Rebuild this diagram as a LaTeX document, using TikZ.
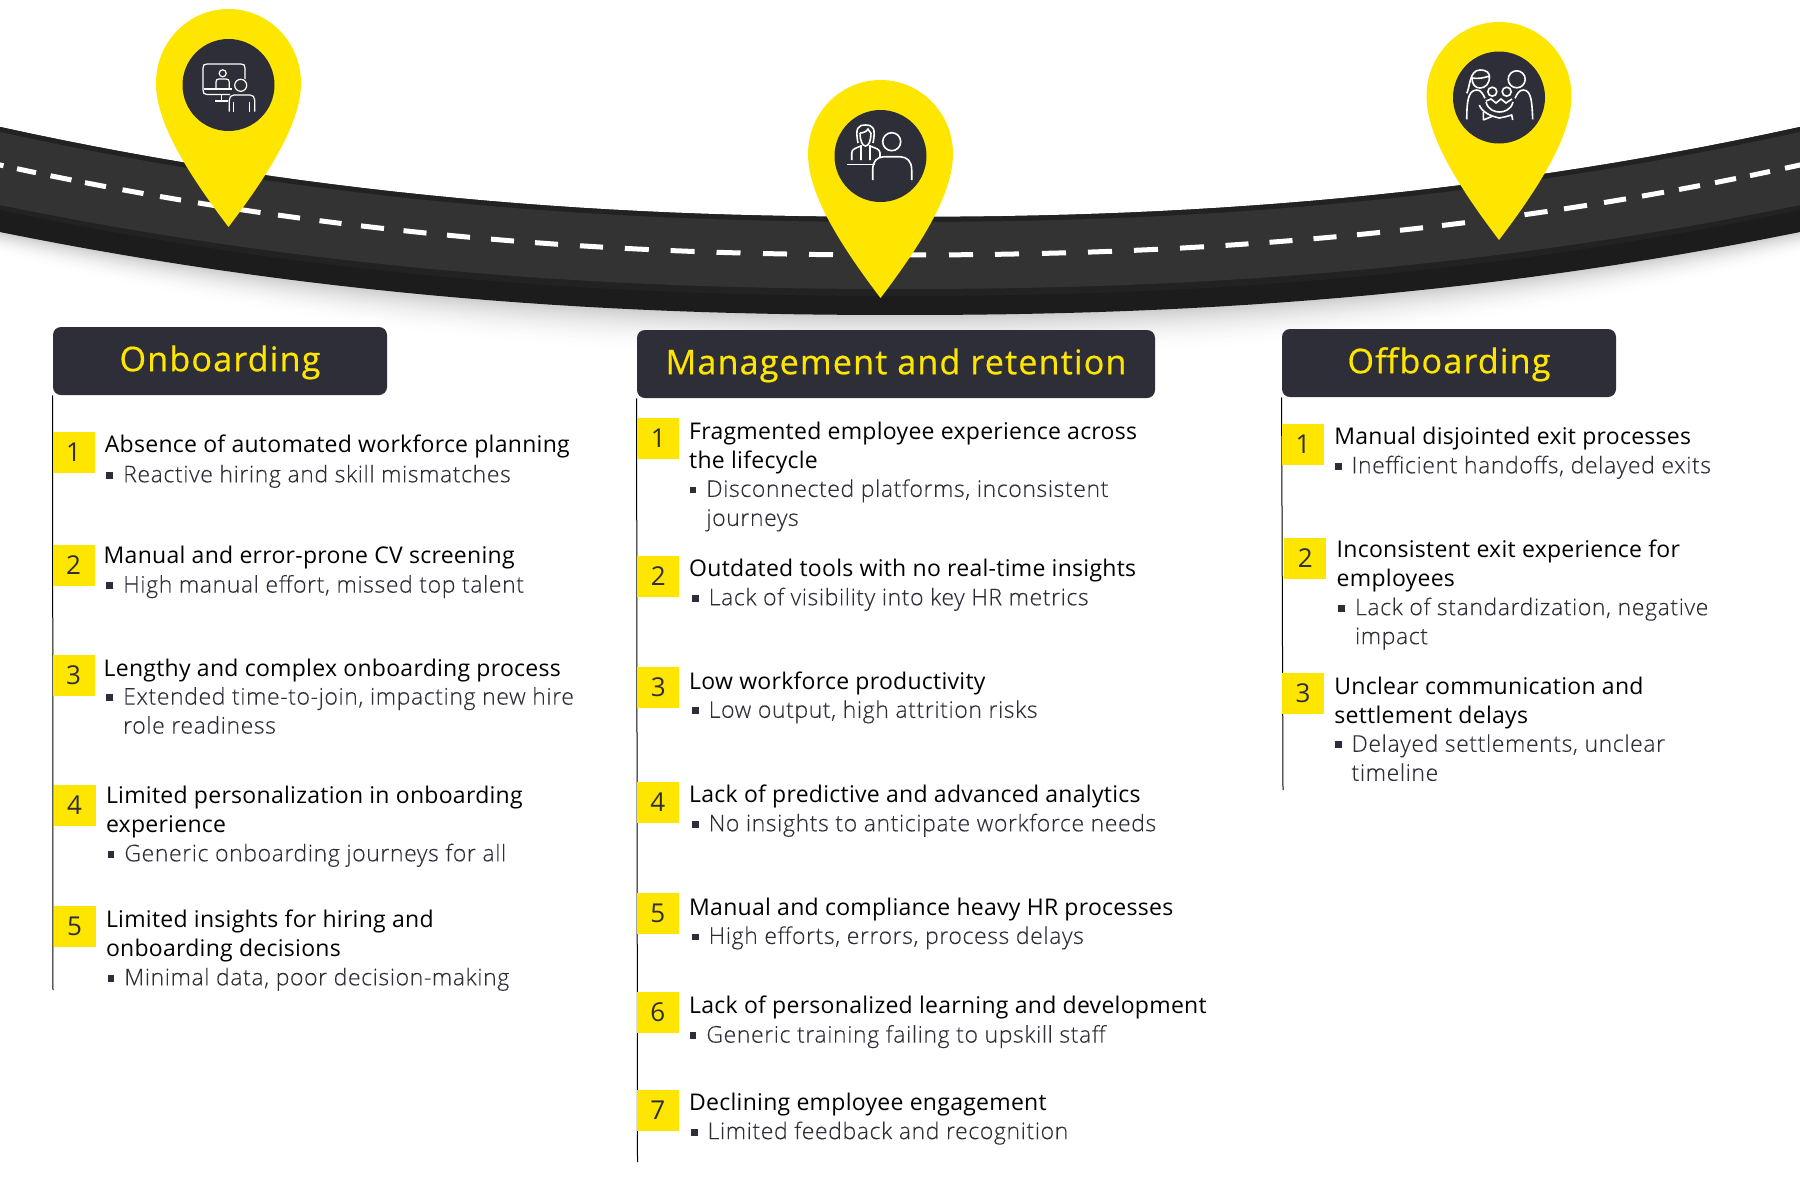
\documentclass[tikz,border=0pt]{standalone}
\usepackage{fontspec}
\setmainfont{Open Sans}
\newfontfamily\titlefont[LetterSpace=1.2]{Open Sans}
\newfontfamily\subfont[LetterSpace=2.6,FakeBold=0.25]{Open Sans Light}
\newfontfamily\headfont[LetterSpace=3.6,FakeBold=0.6]{Open Sans}
\usepackage{xcolor}
\definecolor{eyyellow}{HTML}{FFE600}
\definecolor{eydark}{HTML}{2E2E38}
\definecolor{asphalt}{HTML}{333333}
\definecolor{asphaltdark}{HTML}{1C1C1C}
\definecolor{asphaltrim}{HTML}{222222}
\newcommand{\bul}{\leavevmode\llap{\textcolor{eydark}{\rule[1.8pt]{3.4pt}{3.4pt}}\hspace{5pt}}}
\newcommand{\roadedge}[2]{#1-#2*pow(abs(\x-900)/900,2.2)}
\newcommand{\pinshape}[4]{%
	\begin{scope}[shift={(#1,#2)}]
	\fill[eyyellow] (0,0) .. controls (-40,0) and (-72.5,33) .. (-72.5,74) .. controls (-72.5,112) and (-44,160) .. (0,218) .. controls (44,160) and (72.5,112) .. (72.5,74) .. controls (72.5,33) and (40,0) .. (0,0) -- cycle;
	\end{scope}
	\node[pincircle] (#4) at (#1,#3) {};
}
\tikzset{
	pincircle/.style={circle,fill=eydark,minimum size=46pt,inner sep=0},
	header/.style={rectangle,rounded corners=4pt,fill=eydark,text=eyyellow,minimum height=34pt,inner sep=0,text height=13.4pt,text depth=3.2pt,font=\headfont\fontsize{17}{20}\selectfont},
	numbox/.style={rectangle,fill=eyyellow,text=eydark,minimum width=21pt,minimum height=20.5pt,inner sep=0,font=\fontsize{13}{14}\selectfont},
	rowtext/.style={align=left,inner sep=0,yshift=6.2pt,anchor=north west,execute at begin node=\strut},
	rowtitle/.style={rowtext,text=black,font=\titlefont\fontsize{11.5}{14.5}\selectfont},
	rowsub/.style={rowtext,text=eydark,font=\subfont\fontsize{11.5}{14.5}\selectfont},
	rail/.style={black,line width=0.5pt},
	icon/.style={white,line width=0.6pt},
	iconb/.style={white,line width=0.8pt}
}
\begin{document}
\begin{tikzpicture}[x=0.5pt,y=-0.5pt]
	\useasboundingbox (0,0) rectangle (1800,1200);
	%shadow under the road
	\foreach \d in {44,42,...,2}{
		\pgfmathsetmacro{\shadeval}{20*(1-\d/46)^2}
		\fill[black!\shadeval!white] plot[domain=0:1800,samples=60] (\x,{\roadedge{217}{90}}) -- plot[domain=1800:0,samples=60] (\x,{\roadedge{315}{83}+\d*(1-0.5*pow(abs(\x-900)/900,2.2))}) -- cycle;
	}
	%road
	\fill[asphaltdark] plot[domain=0:1800,samples=60] (\x,{\roadedge{217}{90}}) -- plot[domain=1800:0,samples=60] (\x,{\roadedge{315}{83}}) -- cycle;
	\fill[asphaltrim] plot[domain=0:1800,samples=60] (\x,{\roadedge{217}{90}}) -- plot[domain=1800:0,samples=60] (\x,{\roadedge{296}{86}}) -- cycle;
	\fill[asphalt] plot[domain=0:1800,samples=60] (\x,{\roadedge{222}{90}}) -- plot[domain=1800:0,samples=60] (\x,{\roadedge{289}{84}}) -- cycle;
	%lane marks
	\foreach \m/\w in {-6/19,26.5/19,61/21,95.5/21,133/21,170.5/21,208.5/21,250/21,289/22,330.5/22,372.5/23,415/23,458.5/23,502.5/23,546.5/23,591.5/23,636.8/24,682.6/24,728.5/24,775/24,821/24,914/24,961/24,1007/24,1054/24,1100/24,1146/24,1192/24,1237/23,1281/23,1325/23,1368.5/23,1411.5/23,1453.5/23,1536/23,1575.5/23,1615/22,1653/22,1689.5/21,1725.5/21,1760/20,1795/20}{
		\draw[white,line width=2.5pt] ({\m-\w/2},{255-90*pow(abs(\m-\w/2-900)/900,2.2)}) -- ({\m+\w/2},{255-90*pow(abs(\m+\w/2-900)/900,2.2)});
	}
	%pins
	\pinshape{228.5}{9}{85}{pinon}
	\pinshape{880.5}{80}{156}{pinma}
	\pinshape{1499}{22}{97.5}{pinof}
	%screen icon
	\draw[icon] (245,79) -- (245,68) .. controls (245,65) and (244,64) .. (241,64) -- (207,64) .. controls (204,64) and (203,65) .. (203,68) -- (203,90) .. controls (203,93) and (204,94.5) .. (207,94.5) -- (230,94.5);
	\draw[icon] (204,89) -- (232,89);
	\draw[icon] (221.7,94.5) -- (221.7,101) (215,101) -- (228,101);
	\draw[icon] (222.7,73.3) circle[radius=3.5];
	\draw[icon] (216,88) -- (216,82) .. controls (216,80) and (217,79) .. (219,79) -- (226,79) .. controls (228,79) and (229.3,80) .. (229.3,82) -- (229.3,88);
	\draw[icon] (240.7,85.3) circle[radius=6];
	\draw[icon] (229.3,111.7) -- (229.3,100) .. controls (229.3,97) and (231,95) .. (234,95) -- (250,95) .. controls (253,95) and (254.7,97) .. (254.7,100) -- (254.7,111.7);
	\draw[icon] (233.3,101.7) -- (233.3,111.7) (249.3,101.7) -- (249.3,111.7);
	%meeting icon
	\draw[iconb] (858,143) .. controls (855,128) and (858,125) .. (865.5,125) .. controls (873,125) and (876,128) .. (873,143);
	\draw[iconb] (860,133) .. controls (864,133) and (867,131) .. (868,129) .. controls (869,131) and (870,132) .. (871,133);
	\draw[iconb] (860,133) .. controls (860,140) and (862,146) .. (865.5,146) .. controls (869,146) and (871,140) .. (871,133);
	\draw[iconb] (851.7,160) -- (851.7,153) .. controls (851.7,149) and (856,148) .. (861,146) -- (861,160);
	\draw[iconb] (880,158) -- (880,153) .. controls (880,149) and (875,148) .. (870,146) -- (870,160);
	\draw[iconb] (847,164.5) -- (875,164.5);
	\draw[iconb] (891.7,141.7) circle[radius=9];
	\draw[iconb] (872.7,180) -- (872.7,170) .. controls (872.7,161) and (877,157) .. (884,156.7) -- (900,156.7) .. controls (907,157) and (911.7,161) .. (911.7,170) -- (911.7,180);
	%family icon
	\draw[iconb] (1466.7,93.3) .. controls (1470,88) and (1469,70) .. (1480,70) .. controls (1487,70) and (1490,73) .. (1489.3,78);
	\draw[iconb] (1472,78) .. controls (1478,79) and (1484,78) .. (1489.3,76) .. controls (1490,84) and (1485,88) .. (1480,88) .. controls (1475,88) and (1472,84) .. (1472,78);
	\draw[iconb] (1516.7,79.3) circle[radius=8.5];
	\draw[iconb] (1492.3,91.7) circle[radius=4.5] (1506.7,91.7) circle[radius=4.5];
	\draw[iconb] (1486,101) -- (1491,99) -- (1496,103) -- (1501,99) -- (1506,103) -- (1512,99);
	\draw[iconb] (1486,102) .. controls (1488,110) and (1495,112) .. (1499.5,112) .. controls (1504,112) and (1511,110) .. (1513,102);
	\draw[iconb] (1466.7,119.3) .. controls (1467,105) and (1467,90) .. (1476.7,90) .. controls (1481,90) and (1483,94) .. (1485,98.3);
	\draw[iconb] (1532.7,119.3) .. controls (1532,105) and (1532,90) .. (1523.3,90) .. controls (1519,90) and (1517,94) .. (1515,98.3);
	\draw[iconb] (1479.3,105) .. controls (1482,112) and (1490,116) .. (1499.3,118) .. controls (1505,117) and (1508,116) .. (1511.7,115) -- (1512.7,120);
	\draw[iconb] (1483.3,120) -- (1483.3,112) (1483.3,120) -- (1493,116);
	%headers
	\node[header,minimum width=167pt] (hon) at (220,361) {Onboarding};
	\node[header,minimum width=259pt] (hma) at (896,364) {Management and retention};
	\node[header,minimum width=167pt] (hof) at (1449,363) {Offboarding};
	%rails
	\coordinate (endon) at (53,990);
	\coordinate (endma) at (637.5,1162);
	\coordinate (endof) at (1283,790);
	\draw[rail] (hon.south west) -- (endon);
	\draw[rail] (hma.south west) -- (endma);
	\draw[rail] (hof.south west) -- (endof);
	%onboarding
	\foreach \n/\xx/\yy in {1/73.5/452.5,2/73.5/565,3/73.5/675,4/74.6/805,5/74.6/926.5}{
		\node[numbox] (on\n) at (\xx,\yy) {\n};
	}
	\node[rowtitle] (ont1) at (104.5,444.3) {Absence of automated workforce planning};
	\node[rowsub] (ons1) at (122.8,474) {\bul Reactive hiring and skill mismatches};
	\node[rowtitle] (ont2) at (103.3,555.6) {Manual and error-prone CV screening};
	\node[rowsub] (ons2) at (122.8,584.3) {\bul High manual effort, missed top talent};
	\node[rowtitle] (ont3) at (103.3,668) {Lengthy and complex onboarding process};
	\node[rowsub] (ons3) at (122.8,699.1) {\bul Extended time-to-join, impacting new hire\\role readiness};
	\node[rowtitle] (ont4) at (105.6,797.9) {Limited personalization in onboarding\\experience};
	\node[rowsub] (ons4) at (124,853) {\bul Generic onboarding journeys for all};
	\node[rowtitle] (ont5) at (105.6,921.8) {Limited insights for hiring and\\onboarding decisions};
	\node[rowsub] (ons5) at (124,977) {\bul Minimal data, poor decision-making};
	%management and retention
	\foreach \n/\xx/\yy in {1/658.4/438.5,2/658.4/576.3,3/658.4/687.7,4/657.8/802.5,5/657.8/913.8,6/657.8/1012.5,7/657.8/1110}{
		\node[numbox] (ma\n) at (\xx,\yy) {\n};
	}
	\node[rowtitle] (mat1) at (688.8,433.9) {Fragmented employee experience across\\the lifecycle};
	\node[rowsub] (mas1) at (706,491.3) {\bul Disconnected platforms, inconsistent\\journeys};
	\node[rowtitle] (mat2) at (688.8,568) {Outdated tools with no real-time insights};
	\node[rowsub] (mas2) at (708.3,597) {\bul Lack of visibility into key HR metrics};
	\node[rowtitle] (mat3) at (688.8,680.8) {Low workforce productivity};
	\node[rowsub] (mas3) at (708.3,709.5) {\bul Low output, high attrition risks};
	\node[rowtitle] (mat4) at (688.8,794.4) {Lack of predictive and advanced analytics};
	\node[rowsub] (mas4) at (708.3,823) {\bul No insights to anticipate workforce needs};
	\node[rowtitle] (mat5) at (688.8,907) {Manual and compliance heavy HR processes};
	\node[rowsub] (mas5) at (708.3,935.6) {\bul High efforts, errors, process delays};
	\node[rowtitle] (mat6) at (688.8,1005.6) {Lack of personalized learning and development};
	\node[rowsub] (mas6) at (706,1034.3) {\bul Generic training failing to upskill staff};
	\node[rowtitle] (mat7) at (688.8,1102) {Declining employee engagement};
	\node[rowsub] (mas7) at (707.2,1130.8) {\bul Limited feedback and recognition};
	%offboarding
	\foreach \n/\xx/\yy in {1/1303/444.3,2/1305.3/558,3/1303/693.4}{
		\node[numbox] (of\n) at (\xx,\yy) {\n};
	}
	\node[rowtitle] (oft1) at (1334,436) {Manual disjointed exit processes};
	\node[rowsub] (ofs1) at (1351.2,465) {\bul Inefficient handoffs, delayed exits};
	\node[rowtitle] (oft2) at (1336.3,552.3) {Inconsistent exit experience for\\employees};
	\node[rowsub] (ofs2) at (1354.6,609.6) {\bul Lack of standardization, negative\\impact};
	\node[rowtitle] (oft3) at (1334,688.8) {Unclear communication and\\settlement delays};
	\node[rowsub] (ofs3) at (1351.2,746.3) {\bul Delayed settlements, unclear\\timeline};
\end{tikzpicture}
\end{document}
